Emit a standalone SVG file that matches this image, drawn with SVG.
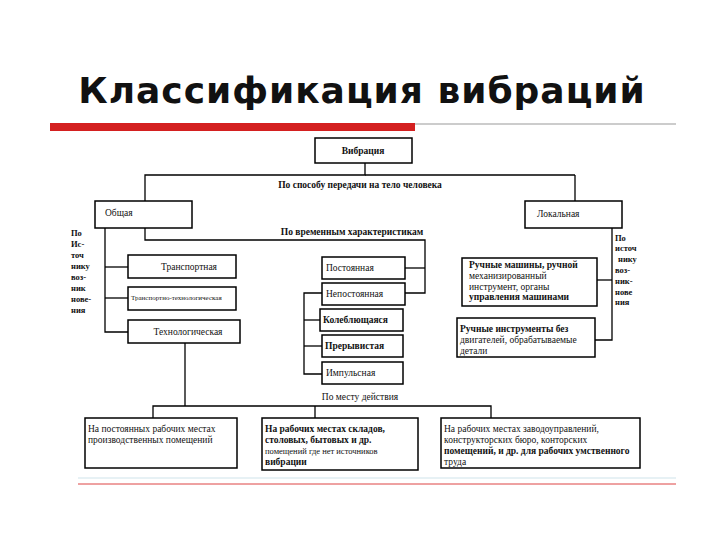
<svg xmlns="http://www.w3.org/2000/svg" width="720" height="540" viewBox="0 0 720 540">
<style>
.b{fill:#fff;stroke:#000;stroke-width:1.5}
.c line,.c polyline{stroke:#000;stroke-width:1.3;fill:none}
.t text{font-size:9.5px;fill:#111}
.h{font-weight:bold}
</style>
<rect width="720" height="540" fill="#fff"/>
<text x="362" y="103" text-anchor="middle" font-family="DejaVu Sans, sans-serif" font-size="36" font-weight="bold" fill="#111" letter-spacing="1">Классификация вибраций</text>
<rect x="50" y="123" width="365" height="8" fill="#d42020"/>
<line x1="415" y1="124" x2="676" y2="124" stroke="#999" stroke-width="1"/>
<line x1="78" y1="478" x2="676" y2="478" stroke="#cfe3ea" stroke-width="1"/>
<line x1="78" y1="484" x2="676" y2="484" stroke="#d44" stroke-width="1"/>
<g class="c">
<polyline points="365,163 365,175 145,175 145,240 425,240 425,293 405,293"/>
<polyline points="405,268 425,268"/>
<polyline points="575,175 575,201"/>
<polyline points="365,175 575,175"/>
<polyline points="105,228 105,332 128,332"/>
<line x1="105" y1="267" x2="128" y2="267"/>
<line x1="105" y1="298" x2="128" y2="298"/>
<polyline points="322,293 304,293 304,374 322,374"/>
<line x1="304" y1="320" x2="320" y2="320"/>
<line x1="304" y1="346" x2="322" y2="346"/>
<polyline points="612,228 612,340 595,340"/>
<line x1="597" y1="280" x2="612" y2="280"/>
<polyline points="185,343 185,406"/>
<polyline points="153,418 153,406 491,406 491,418"/>
<line x1="315" y1="406" x2="315" y2="418"/>
</g>
<g class="t" font-family="Liberation Serif, serif">
<g id="n-vibr"><rect class="b" x="315" y="138" width="97" height="25"/><text class="h" x="363" y="154" text-anchor="middle">Вибрация</text></g>
<text class="h" x="360" y="188" text-anchor="middle">По способу передачи на тело человека</text>
<text class="h" x="352" y="235" text-anchor="middle">По временным характеристикам</text>
<g id="n-obsh"><rect class="b" x="95" y="201" width="97" height="27"/><text x="105" y="216">Общая</text></g>
<g id="n-lok"><rect class="b" x="525" y="201" width="97" height="27"/><text x="537" y="217">Локальная</text></g>
<text class="h" style="font-size:8.5px"><tspan x="71" y="236">По</tspan><tspan x="71" y="247">Ис-</tspan><tspan x="71" y="258">точ</tspan><tspan x="71" y="269">нику</tspan><tspan x="71" y="280">воз-</tspan><tspan x="71" y="291">ник</tspan><tspan x="71" y="302">нове-</tspan><tspan x="71" y="313">ния</tspan></text>
<text class="h" style="font-size:8.5px"><tspan x="615" y="241">По</tspan><tspan x="615" y="251">источ</tspan><tspan x="618" y="262">нику</tspan><tspan x="615" y="273">воз-</tspan><tspan x="615" y="284">ник-</tspan><tspan x="615" y="295">нове</tspan><tspan x="615" y="305">ния</tspan></text>
<g id="n-tr"><rect class="b" x="128" y="255" width="108" height="23"/><text x="189" y="270" text-anchor="middle">Транспортная</text></g>
<g id="n-trt"><rect class="b" x="128" y="287" width="108" height="23"/><text x="131" y="300" style="font-size:7px">Транспортно-технологическая</text></g>
<g id="n-teh"><rect class="b" x="128" y="320" width="112" height="23"/><text x="188" y="335" text-anchor="middle">Технологическая</text></g>
<g id="n-post"><rect class="b" x="322" y="257" width="83" height="22"/><text x="326" y="271">Постоянная</text></g>
<g id="n-nepost"><rect class="b" x="322" y="283" width="83" height="22"/><text x="326" y="297">Непостоянная</text></g>
<g id="n-kol"><rect class="b" x="320" y="309" width="83" height="22"/><text class="h" x="323" y="323">Колеблющаяся</text></g>
<g id="n-prer"><rect class="b" x="322" y="335" width="81" height="22"/><text class="h" x="325" y="349">Прерывистая</text></g>
<g id="n-imp"><rect class="b" x="322" y="362" width="81" height="22"/><text x="326" y="376">Импульсная</text></g>
<g id="n-rm"><rect class="b" x="462" y="258" width="135" height="48"/><text class="h" x="469" y="268">Ручные машины, ручной</text><text x="469" y="279">механизированный</text><text x="469" y="290">инструмент, органы</text><text class="h" x="469" y="300">управления машинами</text></g>
<g id="n-ri"><rect class="b" x="457" y="318" width="138" height="39"/><text class="h" x="460" y="332">Ручные инструменты без</text><text x="460" y="343">двигателей, обрабатываемые</text><text x="460" y="354">детали</text></g>
<text x="360" y="400" text-anchor="middle">По месту действия</text>
<g id="n-b1"><rect class="b" x="85" y="418" width="152" height="50"/><text x="88" y="432">На постоянных рабочих местах</text><text x="88" y="443">производственных помещений</text></g>
<g id="n-b2"><rect class="b" x="262" y="418" width="156" height="52"/><text class="h" x="265" y="432">На рабочих местах складов,</text><text class="h" x="265" y="443">столовых, бытовых и др.</text><text x="265" y="454" style="font-size:8.5px">помещений где нет источников</text><text class="h" x="265" y="465">вибрации</text></g>
<g id="n-b3"><rect class="b" x="441" y="418" width="199" height="50"/><text x="444" y="432">На рабочих местах заводоуправлений,</text><text x="444" y="443">конструкторских бюро, конторских</text><text class="h" x="444" y="454">помещений, и др. для рабочих умственного</text><text x="444" y="465">труда</text></g>
</g>
</svg>
